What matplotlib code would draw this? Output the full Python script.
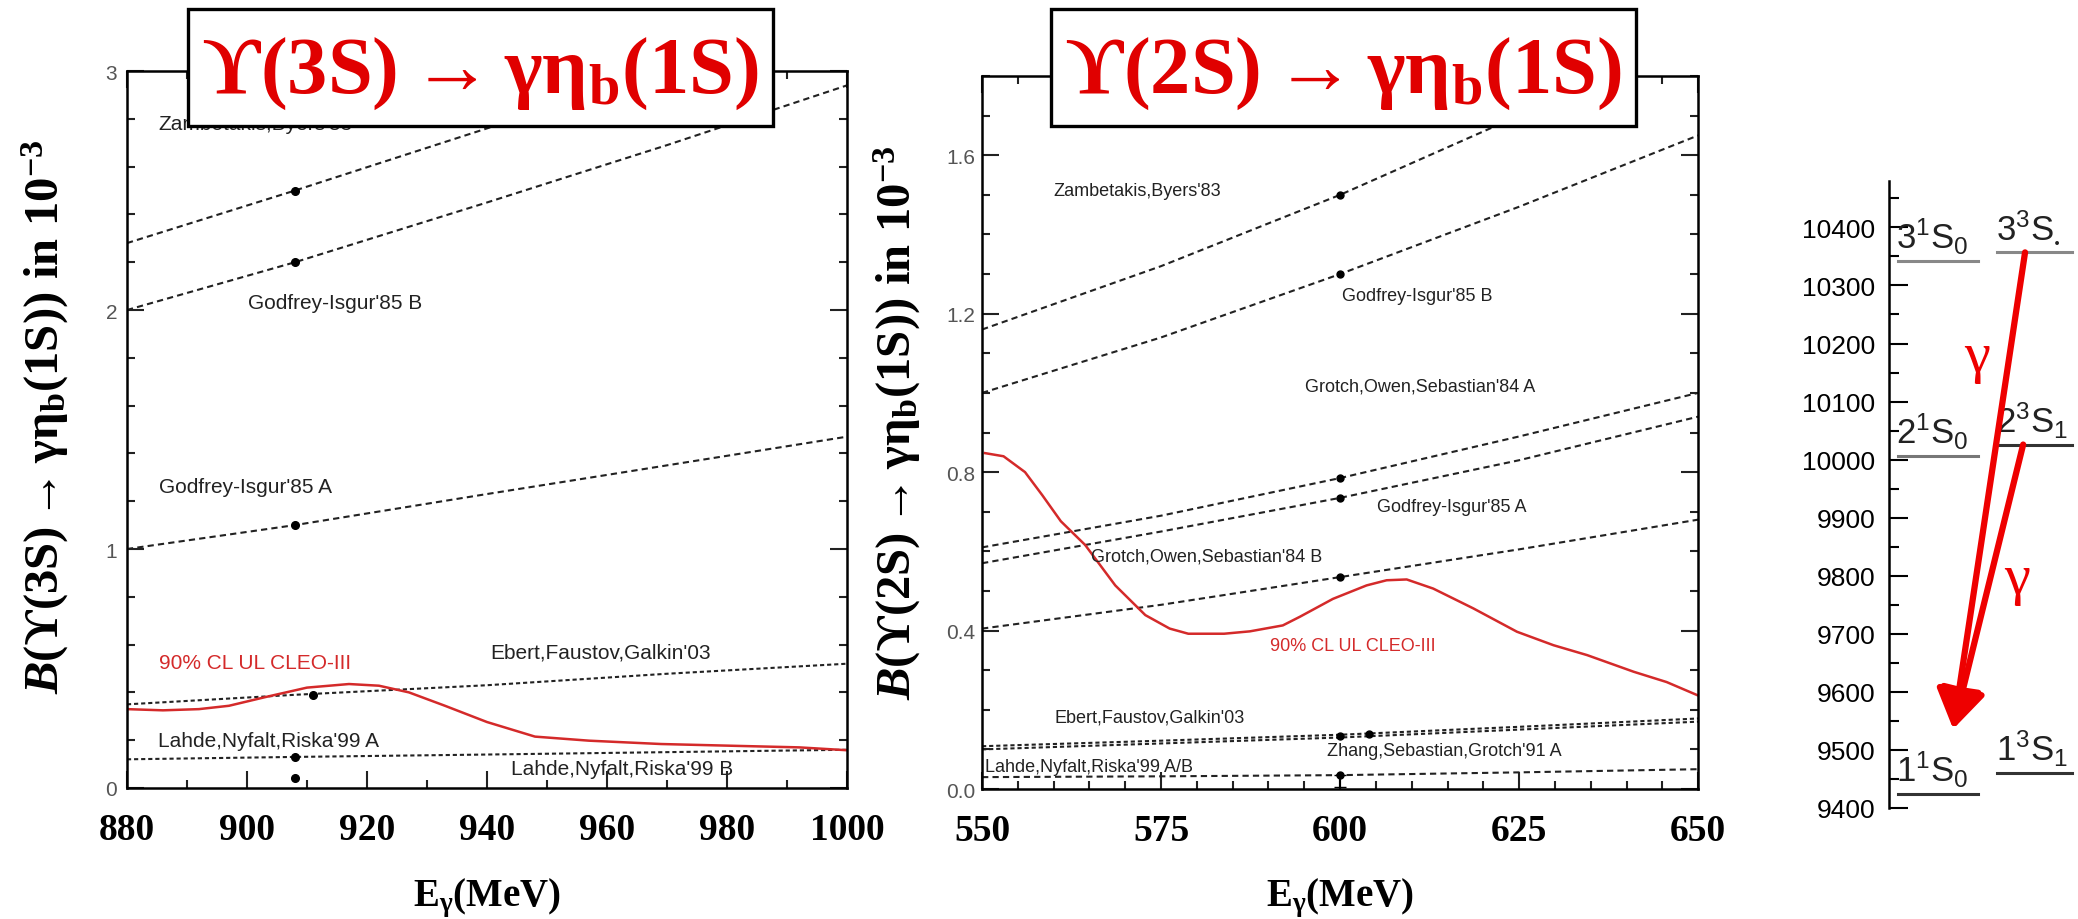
import matplotlib
matplotlib.use('Agg')
import matplotlib.pyplot as plt
import matplotlib.ticker as ticker
from matplotlib.patches import Rectangle

plt.rcParams['mathtext.fontset'] = 'custom'
plt.rcParams['mathtext.rm'] = 'Liberation Serif:bold'
plt.rcParams['mathtext.it'] = 'Liberation Serif:italic:bold'
plt.rcParams['mathtext.bf'] = 'Liberation Serif:bold'
plt.rcParams['mathtext.sf'] = 'Liberation Sans'
plt.rcParams['mathtext.fallback'] = 'stix'

RED = '#e00000'
CURVE_RED = '#d42a2a'
LINE = '#222222'

# ---------------- Upsilon(3S) -> gamma eta_b(1S) ----------------
e3 = [880, 908, 940, 970, 1000]
zb_3s = [2.28, 2.50, 2.76, 3.01, 3.26]
gib_3s = [2.00, 2.20, 2.45, 2.69, 2.94]
gia_3s = [1.00, 1.10, 1.23, 1.35, 1.47]
efg_3s = [0.35, 0.39, 0.43, 0.478, 0.52]
lnra_3s = [0.12, 0.13, 0.14, 0.15, 0.16]
pts3_e = [908, 908, 908, 911, 908, 908]
pts3_b = [2.50, 2.20, 1.10, 0.39, 0.13, 0.04]
ul3_e = [880, 886, 892, 897, 903, 910, 917, 922, 927, 933, 940, 948, 957, 969, 982, 992, 1000]
ul3_b = [0.33, 0.325, 0.33, 0.344, 0.38, 0.42, 0.435, 0.428, 0.40, 0.344, 0.276, 0.215,
         0.198, 0.184, 0.176, 0.17, 0.158]
labels3 = ["Zambetakis,Byers'83", "Godfrey-Isgur'85 B", "Godfrey-Isgur'85 A",
           "Ebert,Faustov,Galkin'03", "Lahde,Nyfalt,Riska'99 A", "Lahde,Nyfalt,Riska'99 B"]
labels3_e = [885.2, 900.2, 885.4, 940.5, 885.2, 944]
labels3_b = [2.78, 2.03, 1.26, 0.57, 0.20, 0.083]

# ---------------- Upsilon(2S) -> gamma eta_b(1S) ----------------
e2 = [550, 575, 600, 625, 650]
zb_2s = [1.16, 1.32, 1.50, 1.70, 1.92]
gib_2s = [1.00, 1.14, 1.30, 1.47, 1.65]
goa_2s = [0.61, 0.69, 0.785, 0.89, 1.00]
gia_2s = [0.57, 0.65, 0.735, 0.83, 0.94]
gob_2s = [0.405, 0.465, 0.535, 0.605, 0.68]
efg_2s = [0.108, 0.122, 0.137, 0.157, 0.178]
zsg_2s = [0.100, 0.115, 0.130, 0.150, 0.170]
lnr_2s = [0.030, 0.032, 0.035, 0.042, 0.050]
pts2_e = [600, 600, 600, 600, 600, 604, 600]
pts2_b = [1.50, 1.30, 0.785, 0.735, 0.535, 0.139, 0.133]
lnr_pt = (600, 0.035, 0.03)
ul2_e = [550.4, 553, 556, 558.4, 561, 564.4, 568.6, 572.8, 576.2, 578.8, 583.8, 587.4, 592,
         594.4, 599, 603.7, 606.5, 609.3, 613, 618.6, 624.7, 629.8, 634.5, 641, 645.6, 650]
ul2_b = [0.848, 0.84, 0.80, 0.742, 0.676, 0.616, 0.514, 0.439, 0.405, 0.392, 0.392, 0.398,
         0.413, 0.435, 0.48, 0.514, 0.527, 0.529, 0.506, 0.456, 0.397, 0.363, 0.338, 0.296,
         0.27, 0.236]
labels2 = ["Zambetakis,Byers'83", "Godfrey-Isgur'85 B", "Grotch,Owen,Sebastian'84 A",
           "Godfrey-Isgur'85 A", "Grotch,Owen,Sebastian'84 B", "Ebert,Faustov,Galkin'03",
           "Zhang,Sebastian,Grotch'91 A", "Lahde,Nyfalt,Riska'99 A/B"]
labels2_e = [560, 600.3, 595.1, 605.2, 565.2, 560.1, 598.2, 550.4]
labels2_b = [1.51, 1.245, 1.017, 0.713, 0.587, 0.182, 0.096, 0.056]

# ---------------- bottomonium levels (MeV) ----------------
singlet_m = [10342, 10006, 9424]
singlet_lab = [r'$\mathsf{3^1S_0}$', r'$\mathsf{2^1S_0}$', r'$\mathsf{1^1S_0}$']
triplet_m = [10357, 10026, 9460]
triplet_lab = [r'$\mathsf{3^3S}_{.}$', r'$\mathsf{2^3S_1}$', r'$\mathsf{1^3S_1}$']
level_col_s = ['#888888', '#777777', '#333333']
level_col_t = ['#888888', '#333333', '#333333']
eta_b_tip = 9536
gamma_m = [10176, 9794]

fig = plt.figure(figsize=(20.78, 9.2), dpi=100)


def style_axes(ax):
    ax.tick_params(which='both', direction='in', top=True, right=True, width=1.5, color=LINE)
    ax.tick_params(which='major', length=12)
    ax.tick_params(which='minor', length=6)
    ax.tick_params(axis='y', labelcolor='#555555', labelsize=15)
    ax.tick_params(axis='x', pad=17)
    for s in ax.spines.values():
        s.set_linewidth(1.8)


def theory(ax, e, b, fine=False):
    ls = (0, (2, 1.4)) if fine else (0, (3, 2))
    ax.plot(e, b, ls=ls, color=LINE, lw=1.5)


YLAB = r'$\mathit{B}(\mathrm{ϒ(%s)\rightarrow γη_b(1S))\ in\ 10^{-3}}$'
TITLE = r'$\mathrm{ϒ(%s)\rightarrow γη_b(1S)}$'

# ---- left panel ----
ax1 = fig.add_axes([0.0611, 0.1424, 0.3465, 0.7793])
theory(ax1, e3, zb_3s)
theory(ax1, e3, gib_3s)
theory(ax1, e3, gia_3s)
theory(ax1, e3, efg_3s, fine=True)
theory(ax1, e3, lnra_3s, fine=True)
ax1.plot(pts3_e, pts3_b, 'o', color='black', ms=5.5)
ax1.plot(ul3_e, ul3_b, color=CURVE_RED, lw=1.8)
for t, x, y in zip(labels3, labels3_e, labels3_b):
    ax1.text(x, y, t, fontsize=15, family='Liberation Sans', color=LINE, va='center')
ax1.text(885.4, 0.527, '90% CL UL CLEO-III', fontsize=15, family='Liberation Sans',
         color=CURVE_RED, va='center')
ax1.set_xlim(880, 1000)
ax1.set_ylim(0, 3)
style_axes(ax1)
ax1.set_xticks(range(880, 1001, 20), labels=[str(v) for v in range(880, 1001, 20)],
               fontsize=27, family='Liberation Serif', fontweight='bold')
ax1.xaxis.set_minor_locator(ticker.MultipleLocator(10))
ax1.set_yticks([0, 1, 2, 3], labels=['0', '1', '2', '3'], family='Liberation Sans')
ax1.yaxis.set_minor_locator(ticker.MultipleLocator(0.2))
ax1.tick_params(axis='y', pad=7)
ax1.text(0.5, -0.152, r'$\mathrm{E_γ(MeV)}$', transform=ax1.transAxes,
         ha='center', va='center', fontsize=28)
ax1.text(-0.114, 0.519, YLAB % '3S', transform=ax1.transAxes, rotation=90,
         ha='center', va='center', fontsize=35)

# ---- middle panel ----
ax2 = fig.add_axes([0.4726, 0.1413, 0.3446, 0.775])
theory(ax2, e2, zb_2s)
theory(ax2, e2, gib_2s)
theory(ax2, e2, goa_2s)
theory(ax2, e2, gia_2s)
theory(ax2, e2, gob_2s)
theory(ax2, e2, efg_2s, fine=True)
theory(ax2, e2, zsg_2s, fine=True)
theory(ax2, e2, lnr_2s)
ax2.plot(pts2_e, pts2_b, 'o', color='black', ms=5)
ax2.errorbar(lnr_pt[0], lnr_pt[1], yerr=[[lnr_pt[2]], [0]], fmt='o', color='black',
             ms=5, capsize=4, lw=1.5)
ax2.plot(ul2_e, ul2_b, color=CURVE_RED, lw=1.8)
for t, x, y in zip(labels2, labels2_e, labels2_b):
    ax2.text(x, y, t, fontsize=13, family='Liberation Sans', color=LINE, va='center')
ax2.text(590.2, 0.362, '90% CL UL CLEO-III', fontsize=13, family='Liberation Sans',
         color=CURVE_RED, va='center')
ax2.set_xlim(550, 650)
ax2.set_ylim(0, 1.8)
style_axes(ax2)
ax2.set_xticks(range(550, 651, 25), labels=[str(v) for v in range(550, 651, 25)],
               fontsize=27, family='Liberation Serif', fontweight='bold')
ax2.xaxis.set_minor_locator(ticker.MultipleLocator(5))
ax2.set_yticks([0, 0.4, 0.8, 1.2, 1.6], labels=['0.0', '0.4', '0.8', '1.2', '1.6'],
               family='Liberation Sans')
ax2.yaxis.set_minor_locator(ticker.MultipleLocator(0.1))
ax2.tick_params(axis='y', pad=5)
ax2.text(0.5, -0.152, r'$\mathrm{E_γ(MeV)}$', transform=ax2.transAxes,
         ha='center', va='center', fontsize=28)
ax2.text(-0.119, 0.515, YLAB % '2S', transform=ax2.transAxes, rotation=90,
         ha='center', va='center', fontsize=35)

# ---- level diagram ----
ax3 = fig.add_axes([0.9090, 0.1207, 0.0910, 0.6815])
for m, lab, c in zip(singlet_m, singlet_lab, level_col_s):
    ax3.plot([0.05, 0.47], [m, m], color=c, lw=2.2)
    ax3.text(0.04, m + 22, lab, fontsize=25, color='#222222', va='baseline')
for m, lab, c in zip(triplet_m, triplet_lab, level_col_t):
    ax3.plot([0.57, 0.97], [m, m], color=c, lw=2.2)
    ax3.text(0.565, m + 22, lab, fontsize=25, color='#222222', va='baseline')
arrow = dict(arrowstyle='-|>,head_length=1.2,head_width=0.7', mutation_scale=20,
             lw=4.5, color='#ee0000', shrinkA=0, shrinkB=0)
ax3.annotate('', xy=(0.34, eta_b_tip), xytext=(0.72, triplet_m[0]), arrowprops=arrow)
ax3.annotate('', xy=(0.34, eta_b_tip), xytext=(0.71, triplet_m[1]), arrowprops=arrow)
ax3.text(0.466, gamma_m[0], 'γ', fontsize=42, family='Liberation Serif', color='#ee0000',
         ha='center', va='center')
ax3.text(0.68, gamma_m[1], 'γ', fontsize=42, family='Liberation Serif', color='#ee0000',
         ha='center', va='center')
ax3.set_xlim(0, 1)
ax3.set_ylim(9400, 10480)
for s in ['top', 'right', 'bottom']:
    ax3.spines[s].set_visible(False)
ax3.spines['left'].set_linewidth(1.8)
ax3.set_xticks([])
ax3.yaxis.set_major_locator(ticker.MultipleLocator(100))
ax3.yaxis.set_minor_locator(ticker.MultipleLocator(50))
ax3.tick_params(axis='y', which='both', direction='in', width=1.5, labelsize=19, pad=10)
ax3.tick_params(axis='y', which='major', length=14)
ax3.tick_params(axis='y', which='minor', length=7)
for lbl in ax3.get_yticklabels():
    lbl.set_family('Liberation Sans')

# ---- title boxes ----
for x0, state in [(0.0905, '3S'), (0.5058, '2S')]:
    fig.add_artist(Rectangle((x0, 0.862), 0.2815, 0.1275, transform=fig.transFigure,
                             facecolor='white', edgecolor='black', lw=2.4, zorder=5))
    fig.text(x0 + 0.2815 / 2, 0.921, TITLE % state, ha='center', va='center', fontsize=58,
             color=RED, zorder=6)

fig.savefig('out.png', dpi=100)
